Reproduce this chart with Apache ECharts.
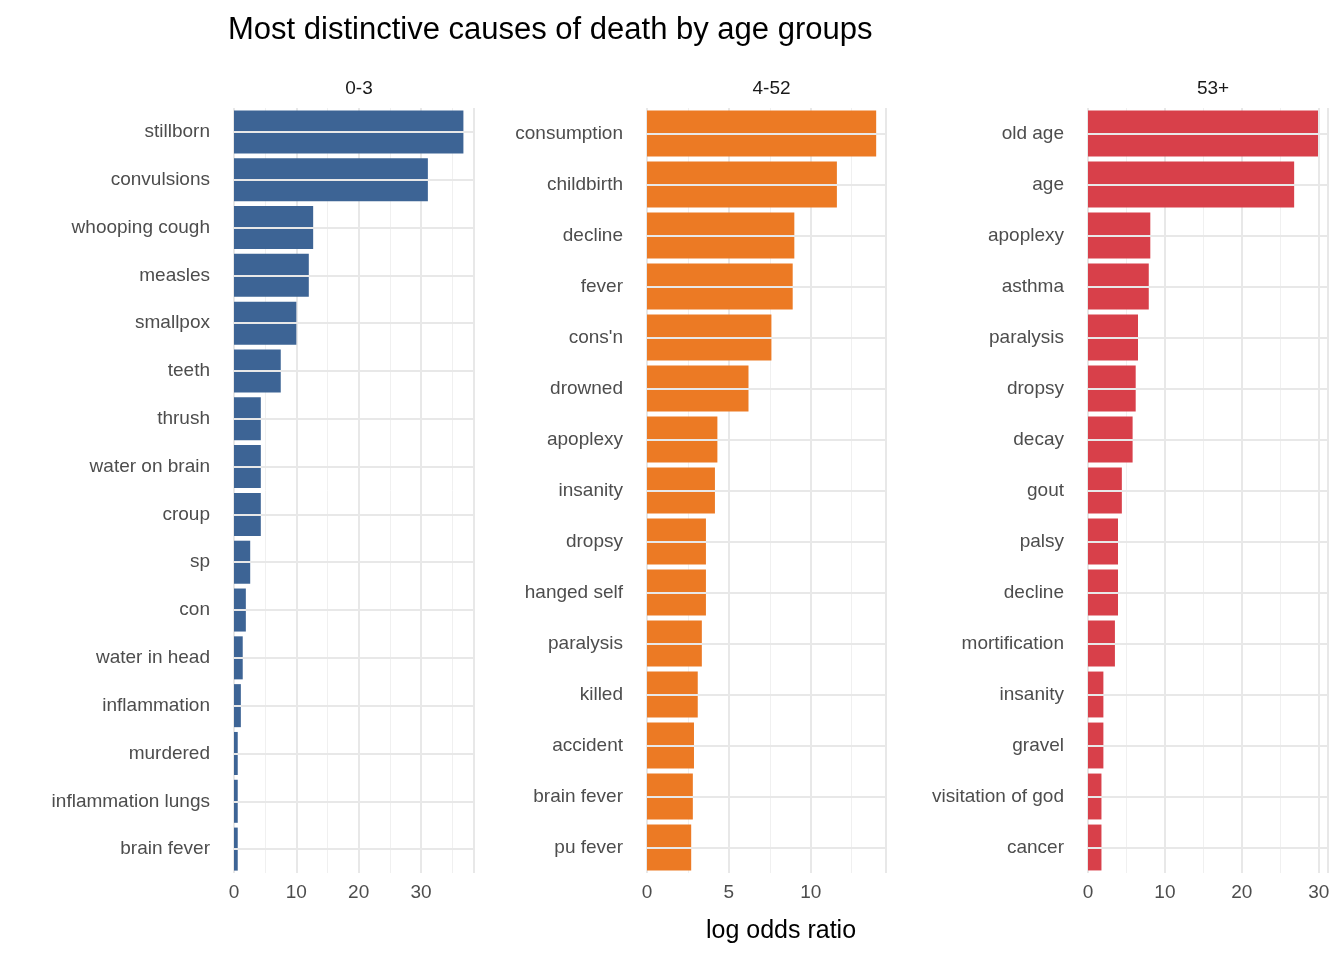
<!DOCTYPE html>
<html>
<head>
<meta charset="utf-8">
<script src="https://cdn.jsdelivr.net/npm/echarts@6/dist/echarts.min.js"></script>
<style>
  html, body { margin: 0; padding: 0; background: #fff; }
  #chart { width: 1344px; height: 960px; }
</style>
</head>
<body>
<div id="chart"></div>
<script>
// facet labels
const groups = ['0-3', '4-52', '53+'];

// 0-3
const causesYoung = ['stillborn', 'convulsions', 'whooping cough', 'measles', 'smallpox', 'teeth', 'thrush',
    'water on brain', 'croup', 'sp', 'con', 'water in head', 'inflammation', 'murdered', 'inflammation lungs', 'brain fever'];
const valuesYoung = [36.8, 31.1, 12.7, 12.0, 10.0, 7.5, 4.3, 4.3, 4.3, 2.6, 1.9, 1.4, 1.1, 0.6, 0.6, 0.6];

// 4-52
const causesMid = ['consumption', 'childbirth', 'decline', 'fever', "cons'n", 'drowned', 'apoplexy', 'insanity',
    'dropsy', 'hanged self', 'paralysis', 'killed', 'accident', 'brain fever', 'pu fever'];
const valuesMid = [14.0, 11.6, 9.0, 8.9, 7.6, 6.2, 4.3, 4.15, 3.6, 3.6, 3.35, 3.1, 2.87, 2.8, 2.7];

// 53+
const causesOld = ['old age', 'age', 'apoplexy', 'asthma', 'paralysis', 'dropsy', 'decay', 'gout', 'palsy',
    'decline', 'mortification', 'insanity', 'gravel', 'visitation of god', 'cancer'];
const valuesOld = [29.9, 26.8, 8.1, 7.9, 6.5, 6.2, 5.8, 4.4, 3.9, 3.9, 3.5, 2.0, 2.0, 1.75, 1.75];

const panels = [
    { cats: causesYoung, vals: valuesYoung, color: '#3d6495', left: 234, width: 240, max: 38.5, interval: 10 },
    { cats: causesMid, vals: valuesMid, color: '#ec7a24', left: 647, width: 239, max: 14.6, interval: 5 },
    { cats: causesOld, vals: valuesOld, color: '#d8404a', left: 1088, width: 240, max: 31.2, interval: 10 }
];

const grid = [], xAxis = [], yAxis = [], series = [], title = [];
const font = 'Helvetica, Arial, "Liberation Sans", sans-serif';

panels.forEach((p, i) => {
    grid.push({ left: p.left, width: p.width, top: 108, height: 765 });
    xAxis.push({
        type: 'value', gridIndex: i, min: 0, max: p.max, interval: p.interval,
        axisLine: { show: false }, axisTick: { show: false },
        axisLabel: { color: '#4d4d4d', fontSize: 19, fontFamily: font, showMaxLabel: false, margin: 10 },
        splitLine: { lineStyle: { color: '#e8e8e8', width: 2 } },
        minorTick: { show: false, splitNumber: 2 },
        minorSplitLine: { show: true, lineStyle: { color: '#f0f0f0', width: 1 } }
    });
    yAxis.push({
        type: 'category', gridIndex: i, data: p.cats, inverse: true,
        axisLine: { show: false }, axisTick: { show: false },
        axisLabel: { color: '#4d4d4d', fontSize: 19, fontFamily: font, margin: 24 },
        splitLine: { show: false }
    });
    // horizontal grid lines through category centres
    series.push({
        type: 'bar', xAxisIndex: i, yAxisIndex: i, data: [], silent: true, z: 1,
        markLine: {
            silent: true, symbol: 'none', label: { show: false },
            lineStyle: { color: '#e8e8e8', width: 2, type: 'solid' },
            data: p.cats.map(c => ({ yAxis: c }))
        }
    });
    series.push({
        type: 'bar', xAxisIndex: i, yAxisIndex: i, data: p.vals, z: 3,
        barCategoryGap: '10%', barGap: '-100%',
        itemStyle: { color: p.color }
    });
    title.push({
        text: groups[i], left: p.left + p.width / 2, top: 74, textAlign: 'center',
        textStyle: { fontSize: 19, fontWeight: 'normal', color: '#1a1a1a', fontFamily: font }
    });
});

title.push({
    text: 'Most distinctive causes of death by age groups', left: 223, top: 10,
    textStyle: { fontSize: 31, fontWeight: 'normal', color: '#000', fontFamily: font }
});
title.push({
    text: 'log odds ratio', left: 776, top: 914, textAlign: 'center',
    textStyle: { fontSize: 25, fontWeight: 'normal', color: '#000', fontFamily: font }
});

const chart = echarts.init(document.getElementById('chart'));
chart.setOption({ animation: false, title, grid, xAxis, yAxis, series });
</script>
</body>
</html>
